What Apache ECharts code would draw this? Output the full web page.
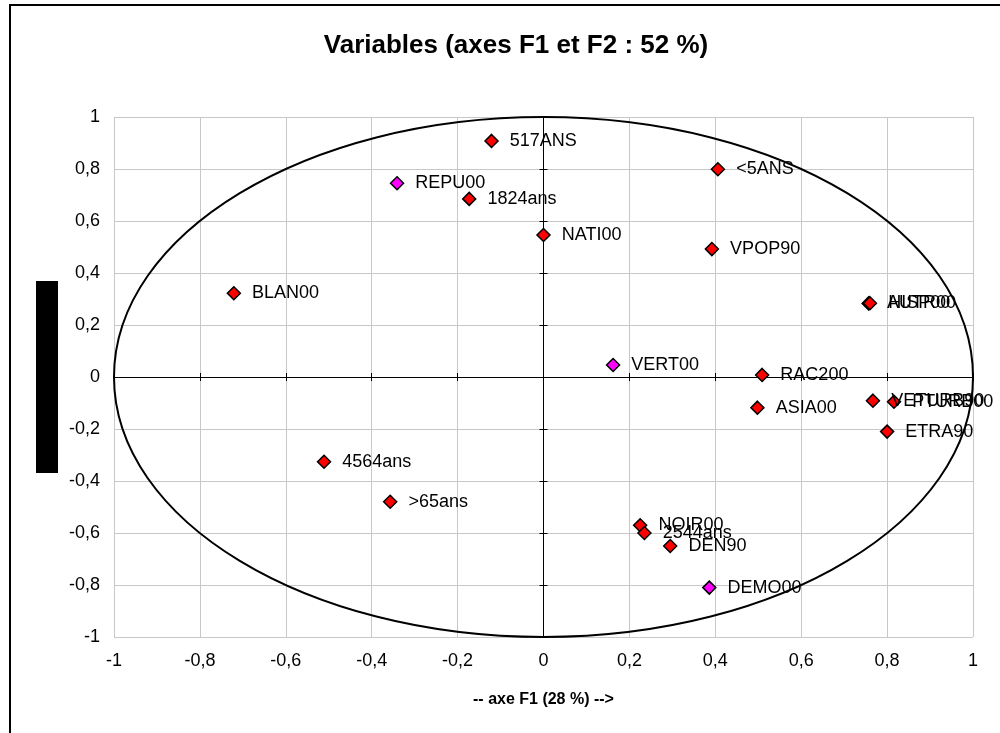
<!DOCTYPE html>
<html>
<head>
<meta charset="utf-8">
<script src="https://cdn.jsdelivr.net/npm/echarts@6/dist/echarts.min.js"></script>
<style>
  html, body { margin: 0; padding: 0; background: #fff; }
  #chart { width: 1000px; height: 733px; }
</style>
</head>
<body>
<div id="chart"></div>
<script>
// variables actives (losanges rouges)
const activeNames = ['517ANS', '<5ANS', '1824ans', 'NATI00', 'VPOP90', 'BLAN00', 'AUTR00', 'HISP00',
  'RAC200', 'ASIA00', 'VETURB90', 'PTURB00', 'ETRA90', '4564ans', '>65ans', 'NOIR00', '2544ans', 'DEN90']
const activeF1 = [-0.121, 0.406, -0.173, 0.000, 0.392, -0.721, 0.757, 0.760,
  0.509, 0.498, 0.767, 0.816, 0.800, -0.511, -0.357, 0.225, 0.235, 0.295]
const activeF2 = [0.908, 0.799, 0.685, 0.546, 0.492, 0.322, 0.283, 0.284,
  0.008, -0.118, -0.091, -0.095, -0.210, -0.326, -0.480, -0.570, -0.600, -0.650]

// variables supplementaires (losanges magenta)
const suppNames = ['REPU00', 'VERT00', 'DEMO00']
const suppF1 = [-0.341, 0.162, 0.386]
const suppF2 = [0.745, 0.046, -0.810]

const tickStep = 0.2
const fmt = v => String(Math.round(v * 10) / 10).replace('.', ',')

function toPoints(names, xs, ys) {
  return names.map((n, i) => ({ name: n, value: [xs[i], ys[i]] }))
}

const labelFont = 'Liberation Sans, Arial, sans-serif'

function zeroAxis(inside) {
  return {
    type: 'value', min: -1, max: 1, interval: tickStep,
    axisLine: { show: true, onZero: true, onZeroAxisIndex: 0, lineStyle: { color: '#000', width: 1 } },
    axisTick: { show: true, inside: inside, length: 4, lineStyle: { color: '#000' } },
    axisLabel: { show: false },
    splitLine: { show: false }
  }
}

function pointSeries(name, color, names, xs, ys) {
  return {
    name: name, type: 'scatter', symbol: 'diamond', symbolSize: 13,
    itemStyle: { color: color, opacity: 1, borderColor: '#000', borderWidth: 1.5 },
    label: {
      show: true, position: 'right', distance: 11, formatter: '{b}',
      fontFamily: labelFont, fontSize: 18, color: '#000', opacity: 1
    },
    emphasis: { disabled: true },
    data: toPoints(names, xs, ys)
  }
}

let myChart = echarts.init(document.getElementById('chart'))

let option = {
  animation: false,
  backgroundColor: '#fff',
  title: {
    text: 'Variables (axes F1 et F2 : 52 %)',
    left: 511, top: 28, textAlign: 'center',
    textStyle: { fontFamily: labelFont, fontSize: 26, fontWeight: 'bold', color: '#000' }
  },
  grid: { left: 114, right: 27, top: 117, bottom: 96 },
  xAxis: [
    {
      type: 'value', min: -1, max: 1, interval: tickStep,
      name: '-- axe F1 (28 %) -->', nameLocation: 'middle', nameGap: 55,
      nameTextStyle: { fontFamily: labelFont, fontSize: 16, fontWeight: 'bold', color: '#000' },
      axisLine: { show: false, onZero: false },
      axisTick: { show: false },
      axisLabel: { margin: 15, formatter: fmt, fontFamily: labelFont, fontSize: 18, color: '#000' },
      splitLine: { show: true, lineStyle: { color: '#c8c8c8', width: 1 } }
    },
    zeroAxis(false),
    zeroAxis(true)
  ],
  yAxis: [
    {
      type: 'value', min: -1, max: 1, interval: tickStep,
      axisLine: { show: false, onZero: false },
      axisTick: { show: false },
      axisLabel: { margin: 14, formatter: fmt, fontFamily: labelFont, fontSize: 18, color: '#000' },
      splitLine: { show: true, lineStyle: { color: '#c8c8c8', width: 1 } }
    },
    zeroAxis(false),
    zeroAxis(true)
  ],
  series: [
    pointSeries('actives', '#ff0000', activeNames, activeF1, activeF2),
    pointSeries('supplementaires', '#ff00ff', suppNames, suppF1, suppF2)
  ]
}

myChart.setOption(option)

// cercle des correlations (rayon 1) place avec les echelles du graphe
let c0 = myChart.convertToPixel({ gridIndex: 0 }, [0, 0])
let c1 = myChart.convertToPixel({ gridIndex: 0 }, [1, 1])
myChart.setOption({
  graphic: [
    {
      type: 'ellipse', silent: true, z: 1,
      shape: { cx: c0[0], cy: c0[1], rx: c1[0] - c0[0], ry: c0[1] - c1[1] },
      style: { fill: null, stroke: '#000', lineWidth: 2 }
    },
    {
      type: 'rect', silent: true,
      shape: { x: 10, y: 5, width: 1000, height: 740 },
      style: { fill: null, stroke: '#000', lineWidth: 2 }
    },
    {
      type: 'rect', silent: true,
      shape: { x: 36, y: 281, width: 22, height: 192 },
      style: { fill: '#000' }
    }
  ]
})
</script>
</body>
</html>
